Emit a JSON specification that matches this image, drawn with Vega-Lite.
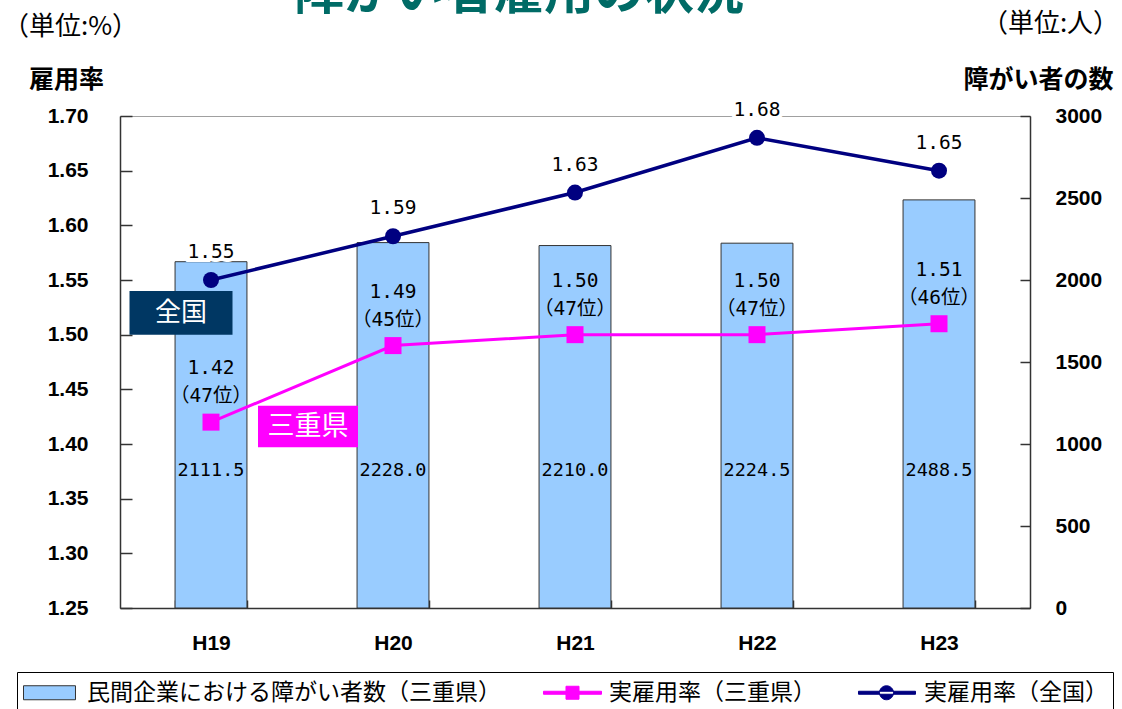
{
  "$schema": "https://vega.github.io/schema/vega-lite/v6.json",
  "width": 910,
  "height": 492,
  "autosize": {"type": "none"},
  "padding": {"left": 120, "top": 116, "right": 92, "bottom": 101},
  "background": "white",
  "title": {
    "text": "障がい者雇用の状況",
    "font": "Noto Sans CJK JP",
    "fontSize": 50,
    "fontWeight": "bold",
    "color": "#006b66",
    "anchor": "middle",
    "frame": "group",
    "dx": -56,
    "dy": 9,
    "offset": 0
  },
  "config": {
    "view": {"stroke": "#a0a0a0", "strokeWidth": 1},
    "scale": {"bandPaddingInner": 0.605, "bandPaddingOuter": 0.3025},
    "axis": {
      "grid": false,
      "labelFont": "Liberation Sans",
      "labelFontWeight": "bold",
      "labelFontSize": 21,
      "labelColor": "black",
      "titleFont": "Noto Sans CJK JP",
      "titleFontSize": 25,
      "titleFontWeight": "bold",
      "titleColor": "black",
      "domainColor": "#333333",
      "tickColor": "#333333",
      "domainWidth": 1.5,
      "tickWidth": 1.5
    },
    "legend": {
      "title": null,
      "orient": "none",
      "legendX": -103,
      "legendY": 556,
      "direction": "horizontal",
      "strokeColor": "#000000",
      "padding": 5,
      "symbolSize": 900,
      "symbolOpacity": 1,
      "symbolStrokeWidth": 1,
      "labelFont": "Noto Sans CJK JP",
      "labelFontSize": 23,
      "labelColor": "black",
      "labelOffset": 34,
      "labelLimit": 1000,
      "columnPadding": 40
    }
  },
  "datasets": {
    "main": [
      {"year": "H19", "count": 2111.5, "mie": 1.42, "rank": "（47位）", "zenkoku": 1.55},
      {"year": "H20", "count": 2228.0, "mie": 1.49, "rank": "（45位）", "zenkoku": 1.59},
      {"year": "H21", "count": 2210.0, "mie": 1.50, "rank": "（47位）", "zenkoku": 1.63},
      {"year": "H22", "count": 2224.5, "mie": 1.50, "rank": "（47位）", "zenkoku": 1.68},
      {"year": "H23", "count": 2488.5, "mie": 1.51, "rank": "（46位）", "zenkoku": 1.65}
    ],
    "legend": [
      {"series": "民間企業における障がい者数（三重県）"},
      {"series": "実雇用率（三重県）"},
      {"series": "実雇用率（全国）"}
    ],
    "one": [{"n": 1}]
  },
  "data": {"name": "main"},
  "layer": [
    {
      "layer": [
        {
          "mark": {"type": "bar", "fill": "#99ccff", "stroke": "#333333", "strokeWidth": 1},
          "encoding": {
            "x": {
              "field": "year", "type": "nominal",
              "axis": {
                "orient": "bottom",
                "labelAngle": 0, "tickBand": "extent", "tickSize": -8, "labelPadding": 32, "labelBaseline": "top",
                "title": "（単位:%）",
                "titleFontWeight": "normal",
                "titleFontSize": 26,
                "titleAngle": 0,
                "titleAlign": "center",
                "titleBaseline": "alphabetic",
                "titleX": -50,
                "titleY": -574
              }
            },
            "y": {
              "field": "count", "type": "quantitative",
              "scale": {"domain": [0, 3000], "nice": false},
              "axis": {
                "orient": "right",
                "values": [0, 500, 1000, 1500, 2000, 2500, 3000],
                "format": "d",
                "tickSize": -10,
                "labelPadding": 35,
                "title": "障がい者の数",
                "titleAngle": 0,
                "titleAlign": "center",
                "titleBaseline": "alphabetic",
                "titleX": 8,
                "titleY": -29
              }
            }
          }
        },
        {
          "mark": {"type": "text", "font": "DejaVu Sans Mono", "fontSize": 18.5, "color": "black"},
          "encoding": {
            "x": {"field": "year", "type": "nominal"},
            "y": {"datum": 840},
            "text": {"field": "count", "type": "quantitative", "format": ".1f"}
          }
        }
      ]
    },
    {
      "layer": [
        {
          "data": {"name": "one"},
          "mark": {"type": "bar", "width": 103, "xOffset": -30, "fill": "#003763"},
          "encoding": {
            "x": {"datum": "H19", "type": "nominal"},
            "y": {"datum": 1.54, "type": "quantitative"},
            "y2": {"datum": 1.50}
          }
        },
        {
          "data": {"name": "one"},
          "mark": {"type": "text", "xOffset": -30, "color": "white", "fontSize": 26, "font": "Noto Sans CJK JP"},
          "encoding": {
            "x": {"datum": "H19", "type": "nominal"},
            "y": {"datum": 1.52, "type": "quantitative"},
            "text": {"value": "全国"}
          }
        },
        {
          "data": {"name": "one"},
          "mark": {"type": "bar", "width": 100, "xOffset": 97, "fill": "#ff00ff"},
          "encoding": {
            "x": {"datum": "H19", "type": "nominal"},
            "y": {"datum": 1.435, "type": "quantitative"},
            "y2": {"datum": 1.397}
          }
        },
        {
          "data": {"name": "one"},
          "mark": {"type": "text", "xOffset": 97, "color": "white", "fontSize": 27, "font": "Noto Sans CJK JP"},
          "encoding": {
            "x": {"datum": "H19", "type": "nominal"},
            "y": {"datum": 1.416, "type": "quantitative"},
            "text": {"value": "三重県"}
          }
        },
        {
          "mark": {"type": "line", "color": "#ff00ff", "strokeWidth": 3},
          "encoding": {
            "x": {
              "field": "year", "type": "nominal",
              "axis": {
                "orient": "top",
                "labels": false, "ticks": false, "domain": false,
                "title": "（単位:人）",
                "titleFontWeight": "normal",
                "titleFontSize": 26,
                "titleAngle": 0,
                "titleAlign": "center",
                "titleBaseline": "alphabetic",
                "titleX": 930,
                "titleY": -85
              }
            },
            "y": {
              "field": "mie", "type": "quantitative",
              "scale": {"domain": [1.25, 1.7], "nice": false, "zero": false},
              "axis": {
                "orient": "left",
                "values": [1.25, 1.3, 1.35, 1.4, 1.45, 1.5, 1.55, 1.6, 1.65, 1.7],
                "format": ".2f",
                "tickSize": -12,
                "labelPadding": 44,
                "title": "雇用率",
                "titleAngle": 0,
                "titleAlign": "center",
                "titleBaseline": "alphabetic",
                "titleX": -54,
                "titleY": -29
              }
            }
          }
        },
        {
          "mark": {"type": "point", "shape": "square", "filled": true, "size": 289, "color": "#ff00ff", "opacity": 1},
          "encoding": {
            "x": {"field": "year", "type": "nominal"},
            "y": {"field": "mie", "type": "quantitative"}
          }
        },
        {
          "mark": {"type": "text", "dy": -54, "font": "DejaVu Sans Mono", "fontSize": 19.5, "color": "black"},
          "encoding": {
            "x": {"field": "year", "type": "nominal"},
            "y": {"field": "mie", "type": "quantitative"},
            "text": {"field": "mie", "type": "quantitative", "format": ".2f"}
          }
        },
        {
          "mark": {"type": "text", "dy": -26, "font": "DejaVu Sans Mono, Noto Sans CJK JP", "fontSize": 19.5, "color": "black"},
          "encoding": {
            "x": {"field": "year", "type": "nominal"},
            "y": {"field": "mie", "type": "quantitative"},
            "text": {"field": "rank", "type": "nominal"}
          }
        },
        {
          "mark": {"type": "line", "color": "#000080", "strokeWidth": 3.5},
          "encoding": {
            "x": {"field": "year", "type": "nominal"},
            "y": {"field": "zenkoku", "type": "quantitative"}
          }
        },
        {
          "mark": {"type": "point", "shape": "circle", "filled": true, "size": 256, "color": "#000080", "opacity": 1},
          "encoding": {
            "x": {"field": "year", "type": "nominal"},
            "y": {"field": "zenkoku", "type": "quantitative"}
          }
        },
        {
          "mark": {"type": "text", "dy": -28, "font": "DejaVu Sans Mono", "fontSize": 19.5, "color": "white", "stroke": "white", "strokeWidth": 8},
          "encoding": {
            "x": {"field": "year", "type": "nominal"},
            "y": {"field": "zenkoku", "type": "quantitative"},
            "text": {"field": "zenkoku", "type": "quantitative", "format": ".2f"}
          }
        },
        {
          "mark": {"type": "text", "dy": -28, "font": "DejaVu Sans Mono", "fontSize": 19.5, "color": "black"},
          "encoding": {
            "x": {"field": "year", "type": "nominal"},
            "y": {"field": "zenkoku", "type": "quantitative"},
            "text": {"field": "zenkoku", "type": "quantitative", "format": ".2f"}
          }
        }
      ]
    },
    {
      "data": {"name": "legend"},
      "mark": {"type": "point", "filled": true, "opacity": 0, "strokeWidth": 1},
      "encoding": {
        "fill": {
          "field": "series", "type": "nominal",
          "scale": {"domain": ["民間企業における障がい者数（三重県）", "実雇用率（三重県）", "実雇用率（全国）"], "range": ["#99ccff", "#ff00ff", "#000080"]}
        },
        "stroke": {
          "field": "series", "type": "nominal",
          "scale": {"domain": ["民間企業における障がい者数（三重県）", "実雇用率（三重県）", "実雇用率（全国）"], "range": ["#333333", "#ff00ff", "#000080"]}
        },
        "shape": {
          "field": "series", "type": "nominal",
          "scale": {
            "domain": ["民間企業における障がい者数（三重県）", "実雇用率（三重県）", "実雇用率（全国）"],
            "range": [
              "M-0.933,-0.467H2.533V0.467H-0.933Z",
              "M-1.067,-0.1H2.8V0.1H-1.067Z M0.433,-0.433H1.3V0.433H0.433Z",
              "M-1.067,-0.1H2.733V0.1H-1.067Z M0.333,0A0.467,0.467 0 1,0 1.267,0A0.467,0.467 0 1,0 0.333,0Z"
            ]
          }
        }
      }
    }
  ],
  "resolve": {"scale": {"y": "independent"}, "axis": {"x": "independent"}}
}
